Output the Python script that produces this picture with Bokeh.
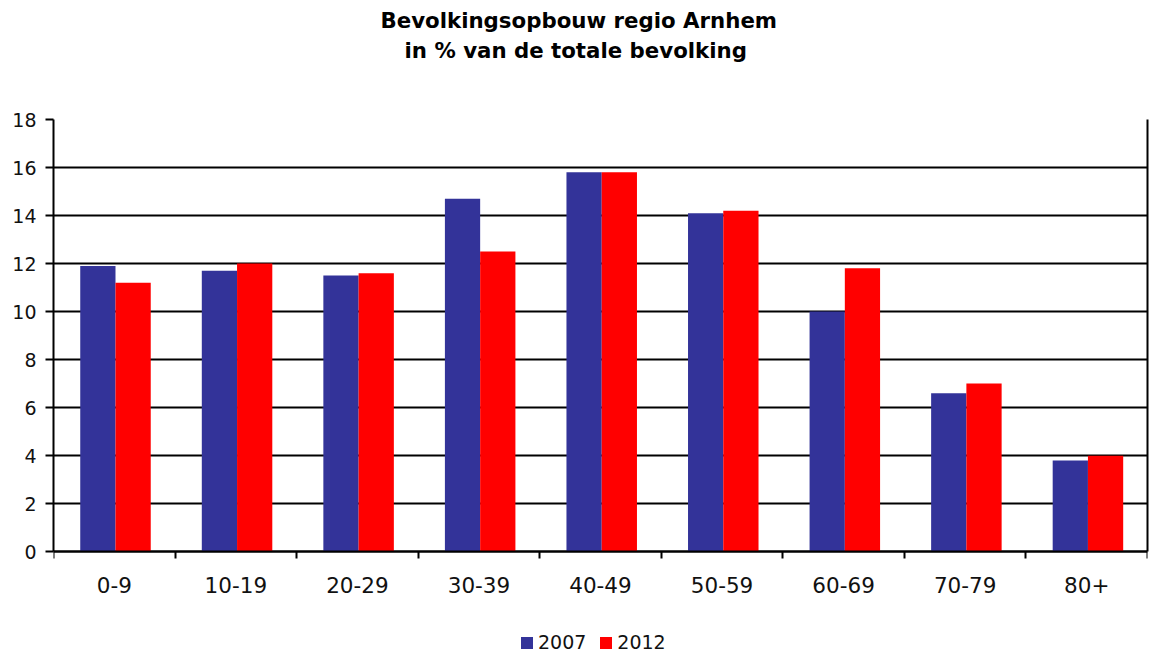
import numpy as np
from bokeh.plotting import figure
from bokeh.models import (ColumnDataSource, FixedTicker, Range1d, Title, Legend,
                          LegendItem, LinearAxis)
from bokeh.embed import file_html
from bokeh.resources import INLINE

categories = ["0-9", "10-19", "20-29", "30-39", "40-49", "50-59", "60-69", "70-79", "80+"]
values_2007 = [11.9, 11.7, 11.5, 14.7, 15.8, 14.1, 10.0, 6.6, 3.8]
values_2012 = [11.2, 12.0, 11.6, 12.5, 15.8, 14.2, 11.8, 7.0, 4.0]
series_names = ["2007", "2012"]
colors = ["#333399", "#FF0000"]
y_ticks = [0, 2, 4, 6, 8, 10, 12, 14, 16, 18]

FONT = "DejaVu Sans"
n = len(categories)
centers = np.arange(n) + 0.51
bw = 0.29
Y_MAX = 18
# room below zero (inside the frame) for the category labels and the legend
y_min = -Y_MAX * 101 / 433

p = figure(width=1149, height=652, output_backend="svg", toolbar_location=None,
           x_range=Range1d(0, n), y_range=Range1d(y_min, Y_MAX),
           x_axis_location=None,
           min_border_left=53, min_border_right=2, min_border_top=20,
           min_border_bottom=0)
p.background_fill_color = "white"
p.border_fill_color = "white"
p.outline_line_color = None

src1 = ColumnDataSource(dict(x=centers - bw / 2, top=values_2007))
src2 = ColumnDataSource(dict(x=centers + bw / 2, top=values_2012))
r1 = p.vbar(x="x", top="top", width=bw, bottom=0, source=src1, fill_color=colors[0], line_color=None)
r2 = p.vbar(x="x", top="top", width=bw, bottom=0, source=src2, fill_color=colors[1], line_color=None)

# x axis at y=0: labels at centers, ticks at boundaries
xa = LinearAxis(fixed_location=0)
p.add_layout(xa, "below")
xa.ticker = FixedTicker(ticks=list(np.arange(n) + 0.5), minor_ticks=list(range(n + 1)))
xa.major_label_overrides = {float(c): lab for c, lab in zip(np.arange(n) + 0.5, categories)}
xa.major_tick_out = 0
xa.major_tick_in = 0
xa.minor_tick_out = 7
xa.minor_tick_in = 0
xa.minor_tick_line_color = "black"
xa.minor_tick_line_width = 2
xa.axis_line_color = "black"
xa.axis_line_width = 2
xa.major_label_text_font = FONT
xa.major_label_text_font_size = "21.5px"
xa.major_label_text_color = "#111111"
xa.major_label_standoff = 18

ya = p.yaxis[0]
ya.ticker = FixedTicker(ticks=y_ticks)
ya.bounds = (0, Y_MAX)
ya.minor_tick_line_color = None
ya.major_tick_out = 8
ya.major_tick_in = 0
ya.major_tick_line_color = "black"
ya.major_tick_line_width = 2
ya.axis_line_color = "black"
ya.axis_line_width = 2
ya.major_label_text_font = FONT
ya.major_label_text_font_size = "19px"
ya.major_label_text_color = "#111111"
ya.major_label_standoff = 9

# right border of the plot area
ra = LinearAxis(ticker=FixedTicker(ticks=[]), bounds=(0, Y_MAX),
                major_tick_out=0, major_tick_in=0, minor_tick_line_color=None,
                major_label_text_font_size="0px", major_label_standoff=0,
                axis_line_color="black", axis_line_width=2)
p.add_layout(ra, "right")

p.xgrid.grid_line_color = None
p.ygrid.grid_line_color = "black"
p.ygrid.grid_line_width = 2
p.ygrid.ticker = FixedTicker(ticks=y_ticks)

legend = Legend(items=[LegendItem(label=series_names[0], renderers=[r1]),
                       LegendItem(label=series_names[1], renderers=[r2])],
                orientation="horizontal", location=(466, -1),
                glyph_width=15, glyph_height=15, label_text_font=FONT,
                label_text_font_size="19px", label_text_color="#111111",
                label_standoff=4, spacing=12,
                padding=0, margin=0, border_line_color=None,
                background_fill_alpha=0, label_height=15)
p.add_layout(legend)

spacer = Title(text=" ", text_font_size="39px")
p.add_layout(spacer, "above")
t2 = Title(text="in % van de totale bevolking", align="left", text_font=FONT,
           text_font_size="21.3px", text_font_style="bold", text_color="black",
           standoff=4, offset=351)
p.add_layout(t2, "above")
t1 = Title(text="Bevolkingsopbouw regio Arnhem", align="left", text_font=FONT,
           text_font_size="21.3px", text_font_style="bold", text_color="black",
           standoff=1, offset=327)
p.add_layout(t1, "above")
top_pad = Title(text=" ", text_font_size="3px", standoff=0)
p.add_layout(top_pad, "above")

open("out.html", "w").write(file_html(p, INLINE))
